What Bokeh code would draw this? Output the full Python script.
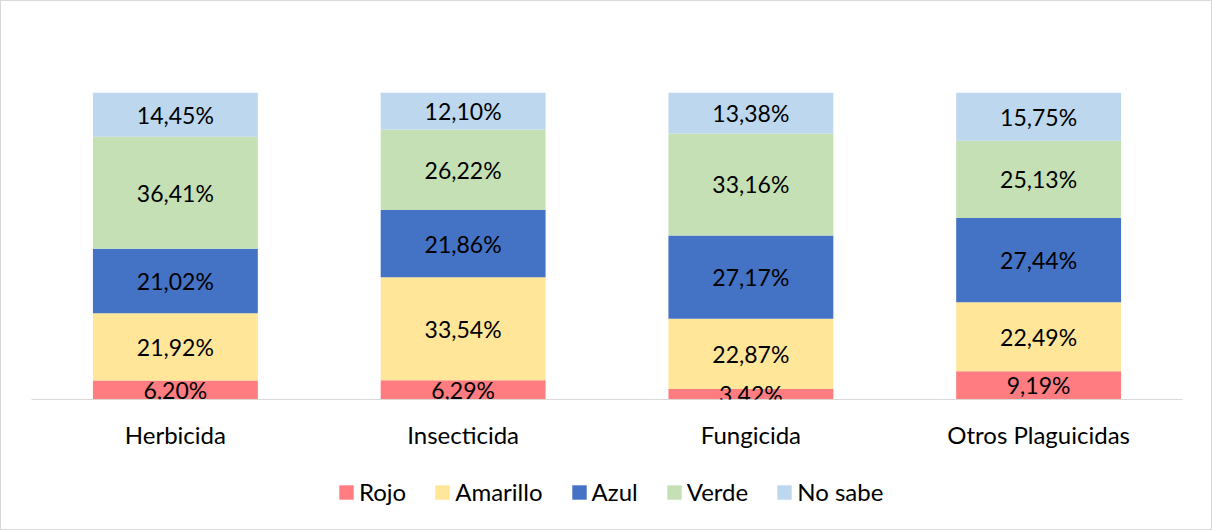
from bokeh.plotting import figure
from bokeh.layouts import column
from bokeh.models import ColumnDataSource, FactorRange, LabelSet, Legend, LegendItem, Range1d
from bokeh.core.properties import value
from bokeh.embed import file_html
from bokeh.resources import INLINE

categories = ["Herbicida", "Insecticida", "Fungicida", "Otros Plaguicidas"]
series = ["Rojo", "Amarillo", "Azul", "Verde", "No sabe"]
rojo = [6.20, 6.29, 3.42, 9.19]
amarillo = [21.92, 33.54, 22.87, 22.49]
azul = [21.02, 21.86, 27.17, 27.44]
verde = [36.41, 26.22, 33.16, 25.13]
no_sabe = [14.45, 12.10, 13.38, 15.75]
colors = ["#FF7C80", "#FFE699", "#4472C4", "#C5E0B4", "#BDD7EE"]

FONT = "Lato"

data = {"cat": categories, "Rojo": rojo, "Amarillo": amarillo, "Azul": azul,
        "Verde": verde, "No sabe": no_sabe}
source = ColumnDataSource(data)

p = figure(x_range=FactorRange(factors=categories), y_range=(0, 100),
           width=1210, height=459, output_backend="svg", toolbar_location=None,
           min_border_left=30, min_border_right=29, min_border_top=91, min_border_bottom=61)
p.outline_line_color = None
p.xgrid.visible = False
p.ygrid.visible = False
p.yaxis.visible = False

renderers = p.vbar_stack(series, x="cat", width=0.573, color=colors, source=source, line_width=0)

# data labels, centred in each segment
cum = [0.0] * len(categories)
for s in series:
    vals = data[s]
    mids = [c + v / 2 for c, v in zip(cum, vals)]
    cum = [c + v for c, v in zip(cum, vals)]
    txt = [("%.2f%%" % v).replace(".", ",") for v in vals]
    ls = ColumnDataSource(dict(x=categories, y=mids, t=txt))
    p.add_layout(LabelSet(x="x", y="y", text="t", source=ls, text_align="center",
                          text_baseline="middle", text_font=value(FONT),
                          text_font_size="23px", text_color="#000000"))

ax = p.xaxis[0]
ax.axis_line_color = "#D9D9D9"
ax.axis_line_width = 1
ax.major_tick_line_color = None
ax.minor_tick_line_color = None
ax.major_tick_out = 0
ax.major_label_standoff = 20
ax.major_label_text_font = FONT
ax.major_label_text_font_size = "24px"
ax.major_label_text_color = "#000000"

# legend figure below
p2 = figure(width=1210, height=69, output_backend="svg", toolbar_location=None,
            x_range=Range1d(0, 1), y_range=Range1d(0, 1),
            x_axis_type=None, y_axis_type=None,
            min_border_left=0, min_border_right=0, min_border_top=0, min_border_bottom=0)
p2.grid.visible = False
p2.outline_line_color = None
dummies = [p2.vbar(x=[10], top=[10], bottom=[9], width=1, color=c, line_width=0) for c in colors]
legend = Legend(items=[LegendItem(label=s, renderers=[r]) for s, r in zip(series, dummies)],
                orientation="horizontal", location=(306, 23),
                glyph_width=18, glyph_height=18, label_standoff=4, spacing=27,
                label_height=24, padding=0, margin=0, border_line_color=None,
                background_fill_alpha=0,
                label_text_font=FONT, label_text_font_size="24px", label_text_color="#000000")
p2.add_layout(legend)

layout = column(p, p2, spacing=0, styles={"border": "1px solid #D9D9D9"})

open("out.html", "w").write(file_html(layout, INLINE))
